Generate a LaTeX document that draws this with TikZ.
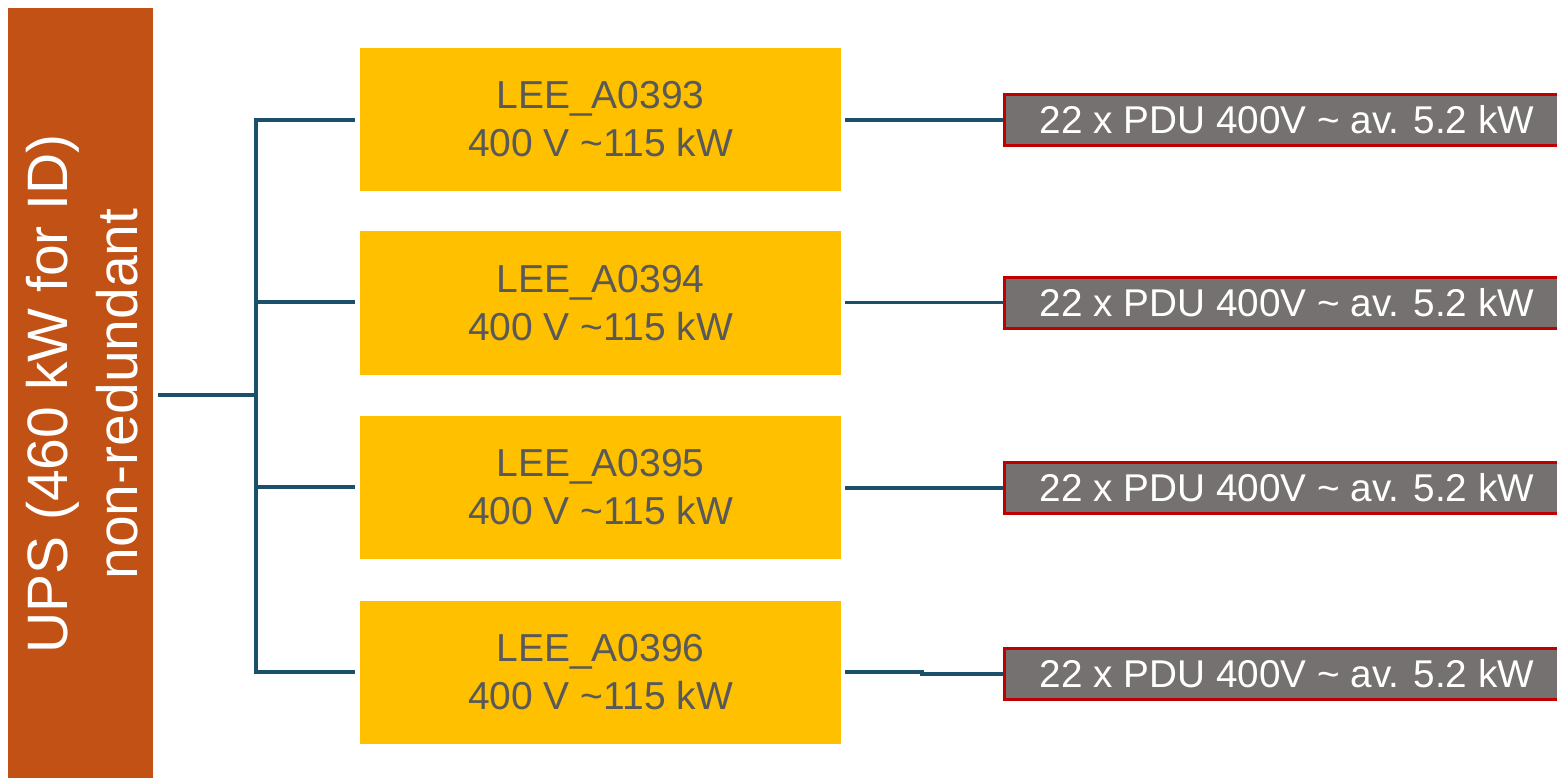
\documentclass[tikz,border=0pt]{standalone}
\usepackage{fontspec}
\setmainfont{Liberation Sans}
\definecolor{upsorange}{RGB}{193,81,21}
\definecolor{leeyellow}{RGB}{255,192,0}
\definecolor{leetext}{RGB}{89,89,89}
\definecolor{pdugray}{RGB}{117,113,113}
\definecolor{pdured}{RGB}{192,0,0}
\definecolor{conncol}{RGB}{26,80,106}
\tikzset{
  upsbox/.style={fill=upsorange, draw=none, inner sep=0pt, minimum width=145pt, minimum height=774pt,
    text=white, align=center, font=\fontsize{57}{70}\selectfont},
  leebox/.style={fill=leeyellow, draw=none, inner sep=0pt, minimum width=481pt, minimum height=143.5pt,
    text=leetext, align=center, font=\fontsize{39}{48}\selectfont},
  pdubox/.style={fill=pdugray, draw=pdured, line width=3pt, inner sep=0pt, minimum width=565pt, minimum height=51pt,
    text=white, font=\fontsize{38.7}{46}\selectfont},
  conn/.style={draw=conncol, line width=3.3pt}
}
\begin{document}
\begin{tikzpicture}[x=1pt,y=-1pt]
\useasboundingbox (0,0) rectangle (1557,778);
\begin{scope}
\clip (0,0) rectangle (1557,778);
\node[upsbox] (ups) at (80.5,395) {};
\node[text=white, align=center, rotate=90, font=\fontsize{57}{70}\selectfont, inner sep=0pt] (upstext) at (82,394) {UPS (460 kW for ID)\\non-redundant};
\node[leebox] (lee1) at (600.5,119.5) {LEE\_A0393\\400 V \textasciitilde115 kW};
\node[leebox] (lee2) at (600.5,303) {LEE\_A0394\\400 V \textasciitilde115 kW};
\node[leebox] (lee3) at (600.5,487.5) {LEE\_A0395\\400 V \textasciitilde115 kW};
\node[leebox] (lee4) at (600.5,672.5) {LEE\_A0396\\400 V \textasciitilde115 kW};
\node[pdubox] (pdu1) at (1287,120) {22 x PDU 400V \textasciitilde{} av. 5.2 kW};
\node[pdubox] (pdu2) at (1287,302.5) {22 x PDU 400V \textasciitilde{} av. 5.2 kW};
\node[pdubox] (pdu3) at (1287,488) {22 x PDU 400V \textasciitilde{} av. 5.2 kW};
\node[pdubox] (pdu4) at (1287,674) {22 x PDU 400V \textasciitilde{} av. 5.2 kW};
\end{scope}
\coordinate (bus) at (256,395);
\coordinate (bus1) at (256,120);
\coordinate (bus2) at (256,302);
\coordinate (bus3) at (256,487);
\coordinate (bus4) at (256,672);
\coordinate (jog) at (922,672);
\draw[conn, shorten <=5pt] (ups.east) -- (bus);
\draw[conn] ([yshift=1.65pt]bus1) -- ([yshift=-1.65pt]bus4);
\draw[conn, shorten >=5pt] (bus1) -- (lee1.west |- bus1);
\draw[conn, shorten >=5pt] (bus2) -- (lee2.west |- bus2);
\draw[conn, shorten >=5pt] (bus3) -- (lee3.west |- bus3);
\draw[conn, shorten >=5pt] (bus4) -- (lee4.west |- bus4);
\draw[conn, shorten <=4pt] (lee1.east |- pdu1.west) -- (pdu1.west);
\draw[conn, shorten <=4pt] (lee2.east |- pdu2.west) -- (pdu2.west);
\draw[conn, shorten <=4pt] (lee3.east |- pdu3.west) -- (pdu3.west);
\draw[conn, shorten <=4pt] (lee4.east |- jog) -- (jog) |- (pdu4.west);
\end{tikzpicture}
\end{document}
